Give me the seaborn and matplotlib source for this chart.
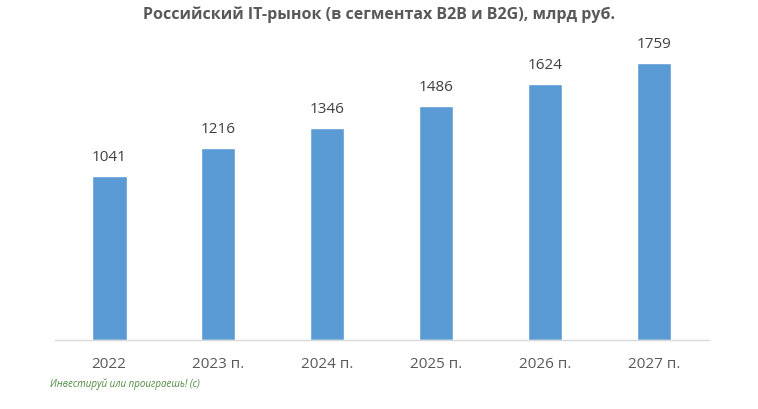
import pandas as pd
import matplotlib
matplotlib.use("Agg")
import matplotlib.pyplot as plt
import seaborn as sns

sns.set_theme(style="white")
plt.rcParams['font.family'] = ['Open Sans', 'DejaVu Sans']

# --- Data ---
years = ['2022', '2023 п.', '2024 п.', '2025 п.', '2026 п.', '2027 п.']
market = [1041, 1216, 1346, 1486, 1624, 1759]

df = pd.DataFrame({"year": years, "value": market})

fig = plt.figure(figsize=(7.58, 4.09), dpi=100)
ax = fig.add_axes([0.072, 0.169, 0.8627, 0.770])

sns.barplot(data=df, x="year", y="value", color="#5B9BD5", width=0.32,
            saturation=1, ax=ax)

# value labels
for i, v in enumerate(market):
    ax.annotate(str(v), (i, v), xytext=(0, 8), textcoords="offset points",
                ha="center", va="bottom", fontsize=11, color="#404040")

ax.set_ylim(0, 2000)
ax.set_xlim(-0.5, len(years) - 0.5)
ax.set_xlabel("")
ax.set_ylabel("")
ax.set_yticks([])
ax.tick_params(axis="x", labelsize=11, labelcolor="#595959", length=0, pad=12)

for s in ["top", "right", "left"]:
    ax.spines[s].set_visible(False)
ax.spines["bottom"].set_color("#D9D9D9")
ax.spines["bottom"].set_linewidth(1)

fig.suptitle("Российский IT-рынок (в сегментах B2B и B2G), млрд руб.",
             x=0.5, y=0.985, fontsize=11.5, fontweight="bold", color="#595959")

fig.text(0.066, 0.055, "Инвестируй или проиграешь! (с)", fontsize=7,
         style="italic", color="#4E8A3E")

fig.savefig("out.png", dpi=100, facecolor="white")
